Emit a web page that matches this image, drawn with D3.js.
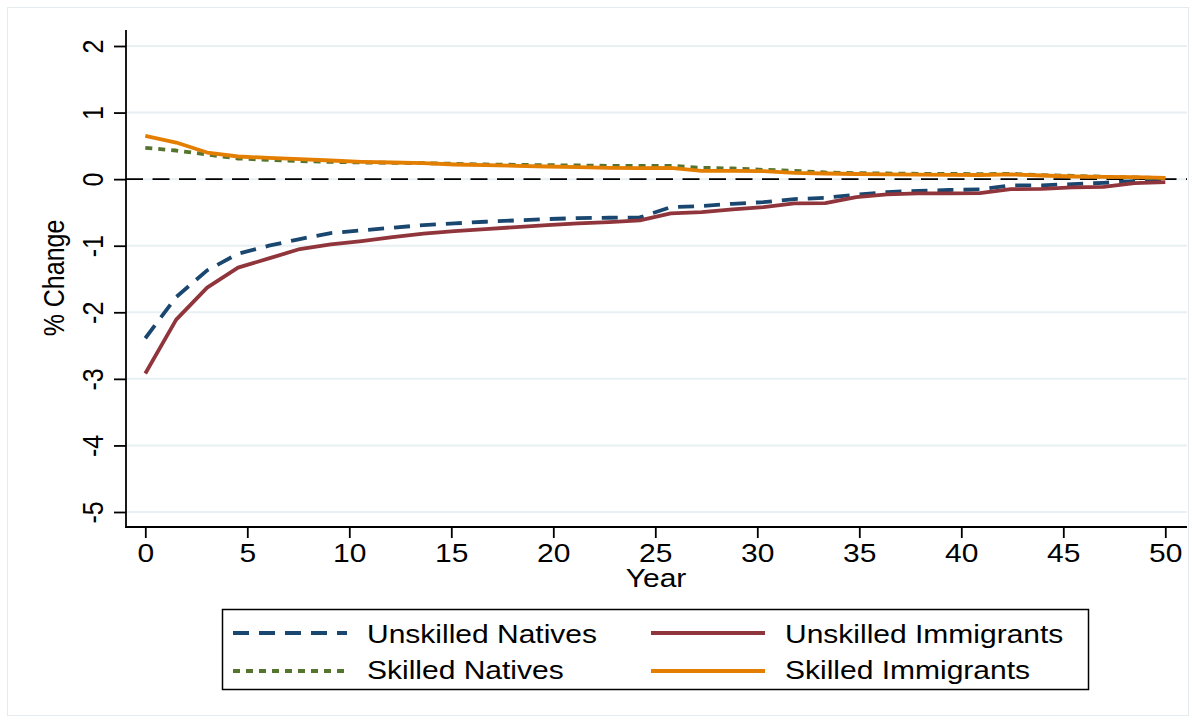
<!DOCTYPE html>
<html>
<head>
<meta charset="utf-8">
<script src="https://cdn.jsdelivr.net/npm/d3@7"></script>
<style>
  html, body { margin: 0; padding: 0; background: #ffffff; }
  svg { display: block; }
</style>
</head>
<body>
<svg id="chart" width="1194" height="723"></svg>
<script>
// ---------------- data ----------------
const years = d3.range(34).map(i => i * 50 / 33);

const unskilledNatives = [-2.39, -1.77, -1.37, -1.12, -1.00, -0.90, -0.81, -0.77, -0.73, -0.69,
  -0.665, -0.64, -0.62, -0.60, -0.585, -0.58, -0.575, -0.42, -0.405, -0.37,
  -0.345, -0.30, -0.28, -0.235, -0.195, -0.175, -0.163, -0.155, -0.095, -0.093,
  -0.074, -0.055, -0.03, -0.01];

const unskilledImmigrants = [-2.92, -2.11, -1.63, -1.33, -1.19, -1.05, -0.98, -0.93, -0.87, -0.82,
  -0.78, -0.75, -0.72, -0.69, -0.665, -0.645, -0.62, -0.515, -0.495, -0.455,
  -0.42, -0.365, -0.36, -0.27, -0.23, -0.214, -0.214, -0.21, -0.15, -0.145,
  -0.125, -0.115, -0.06, -0.045];

const skilledNatives = [0.47, 0.43, 0.37, 0.31, 0.29, 0.27, 0.26, 0.25, 0.245, 0.24,
  0.23, 0.22, 0.215, 0.21, 0.205, 0.20, 0.20, 0.20, 0.17, 0.16,
  0.14, 0.125, 0.10, 0.09, 0.085, 0.08, 0.08, 0.075, 0.08, 0.06,
  0.05, 0.035, 0.025, 0.015];

const skilledImmigrants = [0.65, 0.55, 0.40, 0.34, 0.32, 0.30, 0.28, 0.26, 0.25, 0.24,
  0.22, 0.21, 0.20, 0.19, 0.18, 0.17, 0.165, 0.17, 0.125, 0.123,
  0.12, 0.095, 0.085, 0.077, 0.072, 0.067, 0.064, 0.062, 0.072, 0.055,
  0.04, 0.035, 0.03, 0.02];

const seriesNames = ["Unskilled Natives", "Unskilled Immigrants", "Skilled Natives", "Skilled Immigrants"];
const xTicks = [0, 5, 10, 15, 20, 25, 30, 35, 40, 45, 50];
const yTicks = [-5, -4, -3, -2, -1, 0, 1, 2];
const xTitle = "Year";
const yTitle = "% Change";

// ---------------- layout ----------------
const svg = d3.select("#chart");
const FONT = "'Liberation Sans', Arial, Helvetica, sans-serif";
const FS = 25;
const SX = 1.2; // horizontal stretch of the reference text
const plot = { left: 126, right: 1187, top: 30, bottom: 527 };

const x = d3.scaleLinear().domain([0, 50]).range([145.3, 1165.3]);
const y = d3.scaleLinear().domain([-5, 2]).range([512, 46]);

const styles = [
  { color: "#1a476f", dash: "16,10" },
  { color: "#90353b", dash: null },
  { color: "#55752f", dash: "7,6" },
  { color: "#e37e00", dash: null }
];
const allSeries = [unskilledNatives, unskilledImmigrants, skilledNatives, skilledImmigrants];

// outer graph region border
svg.append("rect")
  .attr("x", 7.5).attr("y", 7.5).attr("width", 1181).attr("height", 708)
  .attr("fill", "none").attr("stroke", "#e3ebef").attr("stroke-width", 1);

// gridlines
svg.append("g").selectAll("line").data(yTicks).join("line")
  .attr("x1", plot.left).attr("x2", plot.right)
  .attr("y1", d => y(d)).attr("y2", d => y(d))
  .attr("stroke", "#e9f0f3").attr("stroke-width", 2);

// zero reference line
svg.append("line")
  .attr("x1", plot.left).attr("x2", plot.right)
  .attr("y1", y(0)).attr("y2", y(0))
  .attr("stroke", "#000").attr("stroke-width", 1.8)
  .attr("stroke-dasharray", "17,9.5");

// series
const line = d3.line().x((d, i) => x(years[i])).y(d => y(d));
allSeries.forEach((s, k) => {
  svg.append("path")
    .datum(s)
    .attr("d", line)
    .attr("fill", "none")
    .attr("stroke", styles[k].color)
    .attr("stroke-width", 3.8)
    .attr("stroke-linejoin", "round")
    .attr("stroke-dasharray", styles[k].dash);
});

// axes
const xAxis = svg.append("g")
  .attr("transform", `translate(0,${plot.bottom})`)
  .call(d3.axisBottom(x).tickValues(xTicks).tickSize(11).tickSizeOuter(0).tickFormat(d3.format("d")));
xAxis.select(".domain").remove();
xAxis.selectAll(".tick line").attr("stroke", "#000").attr("stroke-width", 1.8);
xAxis.selectAll(".tick text")
  .attr("y", null).attr("dy", null)
  .attr("transform", `translate(0,34.5) scale(${SX},1)`)
  .attr("text-anchor", "middle")
  .attr("fill", "#000")
  .style("font-family", FONT).style("font-size", FS + "px");

const yAxis = svg.append("g")
  .attr("transform", `translate(${plot.left},0)`)
  .call(d3.axisLeft(y).tickValues(yTicks).tickSize(12).tickSizeOuter(0).tickFormat(d3.format("d")));
yAxis.select(".domain").remove();
yAxis.selectAll(".tick line").attr("stroke", "#000").attr("stroke-width", 1.8);
yAxis.selectAll(".tick text")
  .attr("x", null).attr("dy", null)
  .attr("transform", `translate(-23,0) scale(${SX},1) rotate(-90)`)
  .attr("text-anchor", "middle")
  .attr("fill", "#000")
  .text(d => d3.format("d")(d).replace("−", "-"))
  .style("font-family", FONT).style("font-size", FS + "px");

// axis lines
svg.append("line")
  .attr("x1", plot.left).attr("x2", plot.left)
  .attr("y1", plot.top).attr("y2", plot.bottom + 0.9)
  .attr("stroke", "#000").attr("stroke-width", 1.8);
svg.append("line")
  .attr("x1", plot.left - 0.9).attr("x2", plot.right)
  .attr("y1", plot.bottom).attr("y2", plot.bottom)
  .attr("stroke", "#000").attr("stroke-width", 1.8);

// axis titles
svg.append("text")
  .attr("transform", `translate(656,587) scale(${SX},1)`)
  .attr("text-anchor", "middle")
  .style("font-family", FONT).style("font-size", FS + "px")
  .text(xTitle);
svg.append("text")
  .attr("transform", `translate(64,278) scale(${SX},1) rotate(-90)`)
  .attr("text-anchor", "middle")
  .style("font-family", FONT).style("font-size", FS + "px")
  .text(yTitle);

// legend
const leg = svg.append("g");
leg.append("rect")
  .attr("x", 222.5).attr("y", 609.5).attr("width", 866).attr("height", 80)
  .attr("fill", "#fff").attr("stroke", "#000").attr("stroke-width", 1.5);

const legPos = [
  { sx: 233, tx: 367, ly: 633, ty: 643 },
  { sx: 651, tx: 785, ly: 633, ty: 643 },
  { sx: 233, tx: 367, ly: 671, ty: 679 },
  { sx: 651, tx: 785, ly: 671, ty: 679 }
];
seriesNames.forEach((name, k) => {
  const p = legPos[k];
  leg.append("line")
    .attr("x1", p.sx).attr("x2", p.sx + 114)
    .attr("y1", p.ly).attr("y2", p.ly)
    .attr("stroke", styles[k].color).attr("stroke-width", 3.8)
    .attr("stroke-dasharray", styles[k].dash);
  leg.append("text")
    .attr("transform", `translate(${p.tx},${p.ty}) scale(${SX},1)`)
    .style("font-family", FONT).style("font-size", FS + "px")
    .text(name);
});
</script>
</body>
</html>
